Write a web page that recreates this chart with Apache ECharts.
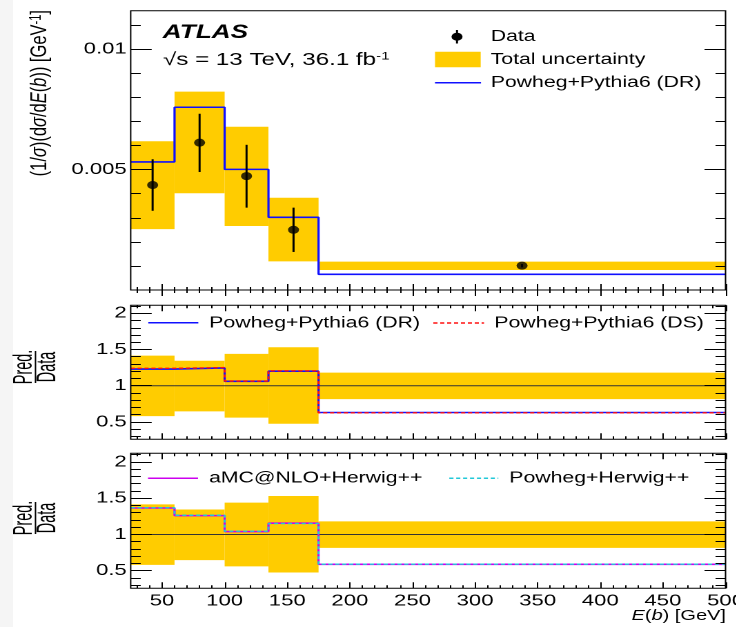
<!DOCTYPE html>
<html>
<head>
<meta charset="utf-8">
<title>E(b) unfolded distribution</title>
<script src="https://cdn.jsdelivr.net/npm/echarts@6/dist/echarts.min.js"></script>
<style>
  html, body { margin: 0; padding: 0; overflow: hidden; }
  body { background: linear-gradient(to right, #f5f5f5 0, #f5f5f5 13px, #fff 13px); width: 736px; height: 627px; }
  #chart { position: absolute; left: 0; top: 0; height: 627px; transform-origin: 0 0; }
</style>
</head>
<body>
<div id="chart"></div>
<script>
// ---- binning and axis ticks ----
const binEdges = [25, 60, 100, 135, 175, 500];
const xMajorTicks = [50, 100, 150, 200, 250, 300, 350, 400, 450, 500];
const xLabelTicks = [50, 100, 150, 200, 250, 300, 350, 400, 450, 500];
const topMajorTicks = [0.005, 0.01];
const ratioMajorTicks = [0.5, 1, 1.5, 2];

// ---- normalised cross-section (1/sigma dsigma/dE(b)) [GeV^-1] ----
const dataValue = [0.00436, 0.00612, 0.00473, 0.00250, 0.00101];
const dataErrLow = [0.00329, 0.00490, 0.00342, 0.00158, 0.00094];
const dataErrHigh = [0.00543, 0.00732, 0.00603, 0.00342, 0.00108];
const totalUncLow = [0.00253, 0.00402, 0.00266, 0.00119, 0.00083];
const totalUncHigh = [0.00618, 0.00824, 0.00678, 0.00383, 0.00118];
const powhegPythiaDR = [0.00532, 0.00759, 0.00501, 0.00302, 0.00065];

// ---- prediction / data ratios ----
const ratioUncLow = [0.580, 0.645, 0.560, 0.475, 0.815];
const ratioUncHigh = [1.415, 1.345, 1.440, 1.530, 1.180];
const ratioPowhegPythiaDR = [1.230, 1.245, 1.060, 1.200, 0.630];
const ratioPowhegPythiaDS = [1.240, 1.250, 1.065, 1.205, 0.625];
const ratioAmcHerwig = [1.365, 1.260, 1.040, 1.155, 0.588];
const ratioPowhegHerwig = [1.370, 1.265, 1.045, 1.150, 0.590];

// ---- page geometry: the canvas is drawn narrow and widened horizontally ----
const STRETCH = 1.38;
const PAGE_W = 736, PAGE_H = 627;
const W = PAGE_W / STRETCH;
const sx = v => v / STRETCH;           // page x -> canvas x

const el = document.getElementById('chart');
el.style.width = W + 'px';
el.style.transform = 'scaleX(' + STRETCH + ')';
const chart = echarts.init(el, null, { renderer: 'canvas', devicePixelRatio: 2 });

const FONT = '"Liberation Sans", Arial, Helvetica, sans-serif';
const BAND = '#ffcc00';
const X_MIN = binEdges[0], X_MAX = binEdges[binEdges.length - 1];

const range = (a, b, step) => { const r = []; for (let v = a; v <= b + 1e-9; v += step) r.push(+v.toFixed(4)); return r; };
const xMinorTicks = range(30, 490, 10);
const topMinorTicks = range(0.001, 0.011, 0.001);
const ratioMinorTicks = range(0.3, 2.1, 0.1);

const PLOT_L = 130.7, PLOT_R = 726;
const gridBase = { show: true, borderColor: '#000', borderWidth: 1, backgroundColor: 'transparent', z: 10,
  outerBoundsMode: 'none', containLabel: false,
  left: sx(PLOT_L), right: W - sx(PLOT_R) };
const grids = [
  Object.assign({ top: 10.7, height: 279.3 }, gridBase),
  Object.assign({ top: 305.3, height: 134 }, gridBase),
  Object.assign({ top: 453.3, height: 135 }, gridBase)
];

const xAxes = [], yAxes = [];
function tick(values, len) {
  return { show: true, inside: true, length: len, customValues: values, lineStyle: { color: '#000', width: 1 } };
}
function addPanel(g, yMin, yMax, yMajor, yMinor, showXLabels) {
  const base = { type: 'value', gridIndex: g, z: 10, axisLine: { show: false }, splitLine: { show: false } };
  const none = { show: false };
  xAxes.push(Object.assign({}, base, { position: 'bottom', min: X_MIN, max: X_MAX, axisTick: tick(xMajorTicks, 6),
    axisLabel: showXLabels ? { show: true, customValues: xLabelTicks, color: '#000', fontSize: 16, fontFamily: FONT, margin: 5 } : none }));
  xAxes.push(Object.assign({}, base, { position: 'bottom', min: X_MIN, max: X_MAX, axisTick: tick(xMinorTicks, 3), axisLabel: none }));
  xAxes.push(Object.assign({}, base, { position: 'top', min: X_MIN, max: X_MAX, axisTick: tick(xMajorTicks, 6), axisLabel: none }));
  xAxes.push(Object.assign({}, base, { position: 'top', min: X_MIN, max: X_MAX, axisTick: tick(xMinorTicks, 3), axisLabel: none }));
  yAxes.push(Object.assign({}, base, { position: 'left', min: yMin, max: yMax, axisTick: tick(yMajor, sx(21)),
    axisLabel: { show: true, customValues: yMajor, color: '#000', fontSize: 16, fontFamily: FONT, margin: sx(4) } }));
  yAxes.push(Object.assign({}, base, { position: 'left', min: yMin, max: yMax, axisTick: tick(yMinor, sx(10)), axisLabel: none }));
  yAxes.push(Object.assign({}, base, { position: 'right', min: yMin, max: yMax, axisTick: tick(yMajor, sx(21)), axisLabel: none }));
  yAxes.push(Object.assign({}, base, { position: 'right', min: yMin, max: yMax, axisTick: tick(yMinor, sx(10)), axisLabel: none }));
}
addPanel(0, 0, 0.0116, topMajorTicks, topMinorTicks, false);
addPanel(1, 0.26, 2.11, ratioMajorTicks, ratioMinorTicks, false);
addPanel(2, 0.257, 2.12, ratioMajorTicks, ratioMinorTicks, true);

// ---- series helpers ----
const binRows = (lo, hi) => lo.map((v, i) => [binEdges[i], binEdges[i + 1], v, hi[i]]);
const stepPoints = vals => {
  const pts = vals.map((v, i) => [binEdges[i], v]);
  pts.push([X_MAX, vals[vals.length - 1]]);
  return pts;
};
const centers = binEdges.slice(0, -1).map((e, i) => (e + binEdges[i + 1]) / 2);

function bandSeries(panel, lo, hi) {
  return {
    type: 'custom', xAxisIndex: panel * 4, yAxisIndex: panel * 4, clip: true, z: 1, silent: true,
    data: binRows(lo, hi), encode: { x: [0, 1], y: [2, 3] },
    renderItem(params, api) {
      const a = api.coord([api.value(0), api.value(3)]);
      const b = api.coord([api.value(1), api.value(2)]);
      return { type: 'rect', shape: { x: a[0], y: a[1], width: b[0] - a[0], height: b[1] - a[1] }, style: { fill: BAND } };
    }
  };
}
function stepSeries(panel, name, vals, color, dash, width) {
  return {
    type: 'line', name, step: 'end', xAxisIndex: panel * 4, yAxisIndex: panel * 4, z: 4, silent: true,
    symbol: 'none', data: stepPoints(vals), animation: false,
    lineStyle: { color, width: width || 1.5, type: dash || 'solid' }
  };
}
function unitySeries(panel) {
  return {
    type: 'line', xAxisIndex: panel * 4, yAxisIndex: panel * 4, z: 3, silent: true, symbol: 'none',
    data: [[X_MIN, 1], [X_MAX, 1]], lineStyle: { color: '#333', width: 1 }
  };
}

const series = [
  bandSeries(0, totalUncLow, totalUncHigh),
  stepSeries(0, 'Powheg+Pythia6 (DR)', powhegPythiaDR, '#1010ff', 'solid', 1.6),
  {
    type: 'custom', name: 'Data errors', xAxisIndex: 0, yAxisIndex: 0, z: 5, silent: true,
    data: centers.map((c, i) => [c, dataErrLow[i], dataErrHigh[i]]), encode: { x: 0, y: [1, 2] },
    renderItem(params, api) {
      const a = api.coord([api.value(0), api.value(1)]);
      const b = api.coord([api.value(0), api.value(2)]);
      return { type: 'line', shape: { x1: a[0], y1: a[1], x2: b[0], y2: b[1] }, style: { stroke: '#000', lineWidth: 1.5 } };
    }
  },
  {
    type: 'scatter', name: 'Data', xAxisIndex: 0, yAxisIndex: 0, z: 6, silent: true,
    symbol: 'circle', symbolSize: 8, itemStyle: { color: '#000' },
    data: centers.map((c, i) => [c, dataValue[i]])
  },
  bandSeries(1, ratioUncLow, ratioUncHigh),
  unitySeries(1),
  stepSeries(1, 'Powheg+Pythia6 (DR)', ratioPowhegPythiaDR, '#1010ff', 'solid', 1.6),
  stepSeries(1, 'Powheg+Pythia6 (DS)', ratioPowhegPythiaDS, '#ff1010', [3, 2], 1.4),
  bandSeries(2, ratioUncLow, ratioUncHigh),
  unitySeries(2),
  stepSeries(2, 'aMC@NLO+Herwig++', ratioAmcHerwig, '#cc00ee', 'solid', 1.6),
  stepSeries(2, 'Powheg+Herwig++', ratioPowhegHerwig, '#22c8d8', [3, 2], 1.4)
];

// ---- annotations, legends and axis titles ----
const txt = (x, y, text, extra) => ({
  type: 'text', x, y, z: 20, silent: true,
  style: Object.assign({ text, fill: '#000', fontSize: 15.4, fontFamily: FONT, textVerticalAlign: 'middle', textAlign: 'left' }, extra || {})
});
const hline = (x1, x2, y, color, dash, width) => ({
  type: 'line', z: 20, silent: true, shape: { x1, y1: y, x2, y2: y },
  style: { stroke: color, lineWidth: width || 1.5, lineDash: dash || null }
});
const richTitle = {
  n: { fontSize: 17, fontFamily: FONT, fill: '#000' },
  i: { fontSize: 17, fontFamily: FONT, fontStyle: 'italic', fill: '#000' },
  s: { fontSize: 11.5, fontFamily: FONT, fill: '#000', verticalAlign: 'top' }
};

// rotated "Pred. / Data" fraction, squeezed along the reading direction
function fraction(cy) {
  const word = (x, text) => ({
    type: 'text', x, y: cy, rotation: Math.PI / 2, scaleX: 0.8, scaleY: 1.1, z: 20, silent: true,
    style: { text, fill: '#000', fontSize: 18, fontFamily: FONT, textAlign: 'center', textVerticalAlign: 'middle' }
  });
  return [
    word(sx(24), 'Pred.'),
    { type: 'line', z: 20, silent: true, shape: { x1: sx(35.5), y1: cy - 16, x2: sx(35.5), y2: cy + 16 }, style: { stroke: '#000', lineWidth: 1 } },
    word(sx(48), 'Data')
  ];
}

const graphics = [
  txt(sx(162.7), 33, 'ATLAS', { fontSize: 19, fontWeight: 'bold', fontStyle: 'italic' }),
  { type: 'text', x: sx(163), y: 60, z: 20, silent: true,
    style: { text: '{n|√s = 13 TeV, 36.1 fb}{s|-1}', textVerticalAlign: 'middle',
      rich: { n: { fontSize: 17.5, fontFamily: FONT, fill: '#000' }, s: { fontSize: 11, fontFamily: FONT, fill: '#000', verticalAlign: 'top' } } } },
  // top legend
  { type: 'circle', z: 20, silent: true, shape: { cx: sx(457), cy: 36.7, r: 4 }, style: { fill: '#000' } },
  { type: 'line', z: 20, silent: true, shape: { x1: sx(457), y1: 30, x2: sx(457), y2: 43.5 }, style: { stroke: '#000', lineWidth: 1.5 } },
  txt(sx(490.7), 36.7, 'Data'),
  { type: 'rect', z: 20, silent: true, shape: { x: sx(435), y: 51.7, width: sx(45.7), height: 15.6 }, style: { fill: BAND } },
  txt(sx(490.7), 59.5, 'Total uncertainty'),
  hline(sx(435), sx(481), 82.7, '#1010ff'),
  txt(sx(490.7), 82.7, 'Powheg+Pythia6 (DR)'),
  // middle legend
  hline(sx(148.3), sx(198.3), 322.7, '#1010ff'),
  txt(sx(209.3), 323, 'Powheg+Pythia6 (DR)'),
  hline(sx(433.3), sx(484), 323, '#ff1010', [3, 2]),
  txt(sx(494.3), 323, 'Powheg+Pythia6 (DS)'),
  // bottom legend
  hline(sx(148), sx(198), 478.3, '#cc00ee'),
  txt(sx(209), 478.3, 'aMC@NLO+Herwig++'),
  hline(sx(449.3), sx(498.3), 478.3, '#22c8d8', [3, 2]),
  txt(sx(509.3), 478.3, 'Powheg+Herwig++'),
  // axis titles
  { type: 'text', x: sx(40), y: 10, rotation: Math.PI / 2, scaleX: 0.97, scaleY: 1, z: 20, silent: true,
    style: { text: '{n|(1/}{i|σ}{n|)(d}{i|σ}{n|/d}{i|E}{n|(}{i|b}{n|)) [GeV}{s|-1}{n|]}', textAlign: 'right', textVerticalAlign: 'middle', rich: richTitle } },
  { type: 'text', x: sx(726), y: 616, z: 20, silent: true,
    style: { text: '{i|E}{n|(}{i|b}{n|) [GeV]}', textAlign: 'right', textVerticalAlign: 'middle',
      rich: { n: { fontSize: 14.5, fontFamily: FONT, fill: '#000' }, i: { fontSize: 14.5, fontFamily: FONT, fontStyle: 'italic', fill: '#000' } } } }
].concat(fraction(367), fraction(518));

chart.setOption({
  backgroundColor: 'transparent',
  animation: false,
  grid: grids,
  xAxis: xAxes,
  yAxis: yAxes,
  series,
  graphic: graphics
});
</script>
</body>
</html>
